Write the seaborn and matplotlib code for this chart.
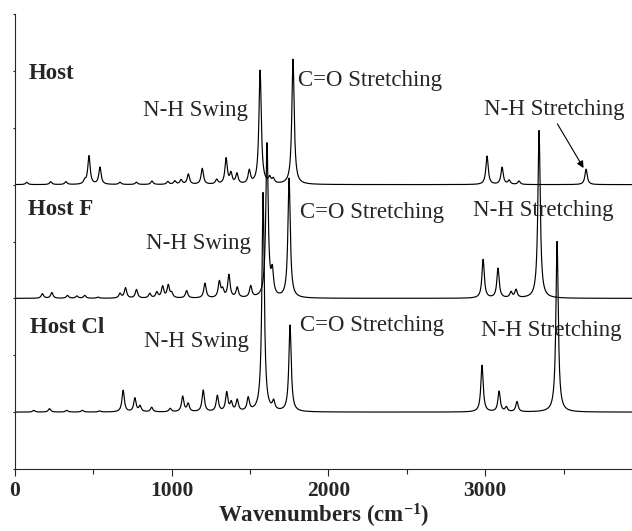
import numpy as np
import pandas as pd
import matplotlib
matplotlib.use('Agg')
import matplotlib.pyplot as plt
from matplotlib.ticker import MultipleLocator
import seaborn as sns

# peak positions (cm-1) and apex heights
host_pos = [75, 228, 325, 445, 472, 542, 670, 775, 874, 975, 1020, 1060, 1106, 1195, 1287,
            1347, 1378, 1416, 1495, 1564, 1625, 1648, 1774, 3012, 3108, 3153, 3216, 3644]
host_amp = [0.04, 0.05, 0.05, 0.06, 0.5, 0.3, 0.04, 0.04, 0.06, 0.05, 0.06, 0.08, 0.18, 0.28, 0.08,
            0.45, 0.18, 0.18, 0.23, 2.0, 0.1, 0.08, 2.2, 0.5, 0.3, 0.07, 0.06, 0.27]

hostf_pos = [175, 235, 335, 395, 445, 530, 670, 705, 775, 860, 905, 942, 978, 1000, 1095,
             1212, 1304, 1325, 1365, 1418, 1504, 1608, 1642, 1749, 2987, 3082, 3165, 3197, 3344]
hostf_amp = [0.08, 0.1, 0.05, 0.04, 0.05, 0.02, 0.08, 0.18, 0.15, 0.08, 0.1, 0.2, 0.22, 0.08, 0.13,
             0.26, 0.28, 0.13, 0.4, 0.18, 0.2, 2.7, 0.4, 2.1, 0.68, 0.52, 0.1, 0.14, 2.95]

hostcl_pos = [120, 220, 330, 430, 540, 690, 765, 798, 872, 990, 1070, 1105, 1201, 1291, 1351,
              1380, 1418, 1488, 1583, 1650, 1755, 2980, 3089, 3135, 3203, 3459]
hostcl_amp = [0.03, 0.06, 0.03, 0.03, 0.02, 0.38, 0.24, 0.1, 0.08, 0.06, 0.27, 0.14, 0.38, 0.28, 0.33,
              0.15, 0.2, 0.23, 3.85, 0.15, 1.52, 0.82, 0.36, 0.08, 0.18, 3.0]

names = ['Host', 'Host F', 'Host Cl']
offsets = [5, 3, 1]
peaks = [(host_pos, host_amp), (hostf_pos, hostf_amp), (hostcl_pos, hostcl_amp)]

# label positions (data coords)
name_xy = [(89, 6.85), (83, 4.47), (96, 2.39)]
swing_xy = [(817, 6.20), (836, 3.86), (823, 2.15)]
co_xy = [(1806, 6.74), (1818, 4.42), (1818, 2.43)]
nh_xy = [(2992, 6.23), (2922, 4.44), (2973, 2.34)]

gamma = 9.0
wn = np.arange(0, 4000, 1.0)


def broaden(pos, amp):
    y = np.zeros_like(wn)
    for p, a in zip(pos, amp):
        y += a * gamma**2 / ((wn - p)**2 + gamma**2)
    return y


frames = []
for name, off, (pos, amp) in zip(names, offsets, peaks):
    frames.append(pd.DataFrame({'wn': wn, 'inten': broaden(pos, amp) + off, 'trace': name}))
df = pd.concat(frames)

sns.set_style('ticks')
plt.rcParams['font.family'] = ['Liberation Serif', 'DejaVu Serif']
plt.rcParams['mathtext.fontset'] = 'custom'
plt.rcParams['mathtext.rm'] = 'Liberation Serif:bold'
plt.rcParams['mathtext.bf'] = 'Liberation Serif:bold'
plt.rcParams['mathtext.default'] = 'bf'

fig = plt.figure(figsize=(6.32, 5.31), dpi=100)
ax = fig.add_axes([15 / 632, 62 / 531, 617 / 632, 455 / 531])

sns.lineplot(data=df, x='wn', y='inten', hue='trace', palette={n: 'black' for n in names},
             estimator=None, sort=False, legend=False, lw=0.85, ax=ax)

ax.set_xlim(0, 3937)
ax.set_ylim(0, 8)
ax.xaxis.set_major_locator(MultipleLocator(1000))
ax.xaxis.set_minor_locator(MultipleLocator(500))
ax.yaxis.set_major_locator(MultipleLocator(1))
ax.set_yticklabels([])
ax.tick_params(axis='x', which='major', direction='out', length=5, width=0.8, pad=4,
               labelsize=15.5)
ax.tick_params(axis='x', which='minor', direction='out', length=3.5, width=0.8)
ax.tick_params(axis='y', direction='out', length=1.5, width=0.8)
for lab in ax.get_xticklabels():
    lab.set_fontweight('bold')
ax.set_ylabel('')
ax.set_xlabel('Wavenumbers (cm$^{-1}$)', fontsize=16.5, fontweight='bold', labelpad=0.5)
sns.despine(ax=ax)
for sp in ax.spines.values():
    sp.set_linewidth(0.8)

fs = 16.5
for i in range(3):
    ax.text(*name_xy[i], names[i], fontsize=fs, fontweight='bold', va='baseline')
    ax.text(*swing_xy[i], 'N-H Swing', fontsize=fs, va='baseline')
    ax.text(*co_xy[i], 'C=O Stretching', fontsize=fs, va='baseline')
    ax.text(*nh_xy[i], 'N-H Stretching', fontsize=fs, va='baseline')

ax.annotate('', xy=(3637, 5.25), xytext=(3452, 6.11),
            arrowprops=dict(arrowstyle='-|>', lw=0.8, color='black', mutation_scale=10))

fig.savefig('out.png', dpi=100)
